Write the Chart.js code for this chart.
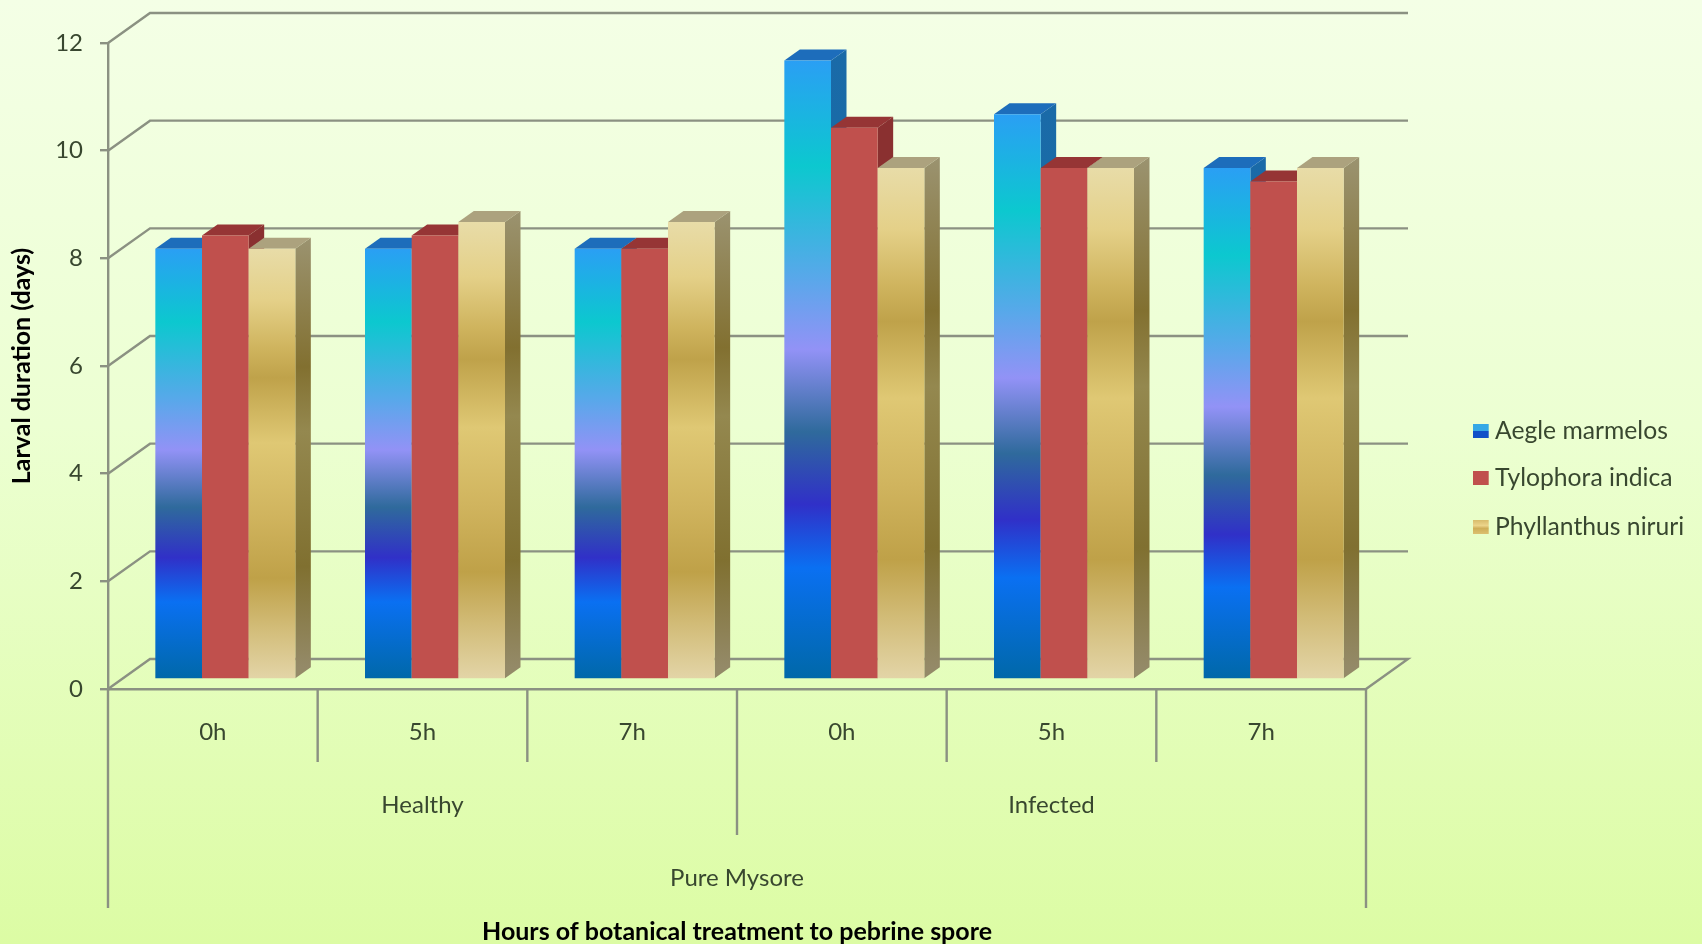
<!DOCTYPE html>
<html><head><meta charset="utf-8">
<style>html,body{margin:0;padding:0;background:#eaffcc}canvas{display:block}</style>
<script src="https://cdn.jsdelivr.net/npm/chart.js@4"></script>
</head><body><canvas id="c" width="1702" height="944"></canvas>
<script>
const hours=["0h","5h","7h","0h","5h","7h"];
const conditions=["Healthy","Infected"];
const breed="Pure Mysore";
const seriesNames=["Aegle marmelos","Tylophora indica","Phyllanthus niruri"];
const aegle=[8,8,8,11.5,10.5,9.5];
const tylophora=[8.25,8.25,8,10.25,9.5,9.25];
const phyllanthus=[8,8.5,8.5,9.5,9.5,9.5];
const yTitle="Larval duration (days)";
const xTitle="Hours of botanical treatment to pebrine spore";

const blueStops=[[0,"#2a9ff4"],[.17,"#0cc8cf"],[.35,"#58a8ea"],[.467,"#9292f6"],[.6,"#2f6a9c"],[.717,"#3030c8"],[.82,"#0a70f2"],[1,"#0068a8"]];
const redStops=[[0,"#c0504d"],[1,"#c0504d"]];
const tanStops=[[0,"#e8dca8"],[.12,"#e4d088"],[.23,"#cfb45e"],[.3,"#bfa24a"],[.45,"#dfc874"],[.62,"#d0b45e"],[.765,"#bfa148"],[.88,"#d2bc78"],[1,"#e3d5a8"]];
const topColors=["#1d6dbb","#963535","#aca27e"];
const sideStops=[
 [[0,"#1a6aa8"],[1,"#12709f"]],
 [[0,"#8a3030"],[1,"#8a3030"]],
 [[0,"#9b9370"],[.3,"#827030"],[.45,"#94884f"],[.765,"#807030"],[1,"#948a68"]]
];
const allStops=[blueStops,redStops,tanStops];
const AXIS="#8b9182",TXT="#38472f",FONT="Lato";
const DX=15.5,DY=11,SHIFTX=12.5,SHIFTY=9.5,WX=42,WY=30;

function grad(c,top,bot,stops){const g=c.createLinearGradient(0,top,0,bot);stops.forEach(s=>g.addColorStop(s[0],s[1]));return g;}
function barFill(i){return ctx=>{
  const ch=ctx.chart;if(!ch.chartArea||ctx.raw===undefined)return allStops[i][0][1];
  const s=ch.scales.y;return grad(ch.ctx,s.getPixelForValue(ctx.raw),s.getPixelForValue(0),allStops[i]);};}

function drawFaces(c,meta,i){
  meta.data.forEach(b=>{const l=b.x-b.width/2,r=b.x+b.width/2,t=b.y,bt=b.base;
   c.fillStyle=grad(c,t-DY,bt-DY,sideStops[i]);c.beginPath();c.moveTo(r,t);c.lineTo(r+DX,t-DY);c.lineTo(r+DX,bt-DY);c.lineTo(r,bt);c.closePath();c.fill();
   c.fillStyle=topColors[i];c.beginPath();c.moveTo(l,t);c.lineTo(l+DX,t-DY);c.lineTo(r+DX,t-DY);c.lineTo(r,t);c.closePath();c.fill();});
}
const scene={id:"scene",
 beforeDraw(ch){const c=ch.ctx;c.save();c.fillStyle=grad(c,0,944,[[0,"#f4ffe6"],[.45,"#ecffd2"],[1,"#dcfca4"]]);c.fillRect(0,0,1702,944);
  const a=ch.chartArea,y=ch.scales.y;c.strokeStyle=AXIS;c.lineWidth=2.4;
  y.ticks.forEach(t=>{const p=y.getPixelForValue(t.value);c.beginPath();c.moveTo(a.left,p);c.lineTo(a.left+WX,p-WY);c.lineTo(a.right+WX,p-WY);if(t.value===0)c.lineTo(a.right,p);c.stroke();});
  c.restore();},
 beforeDatasetsDraw(ch){
  const c=ch.ctx;c.save();c.translate(SHIFTX,-SHIFTY);
  ch.data.datasets.forEach((d,i)=>{const m=ch.getDatasetMeta(i);c.save();drawFaces(c,m,i);c.restore();m.controller.draw();});
  c.restore();return false;},
 afterDraw(ch){const c=ch.ctx,a=ch.chartArea,x=ch.scales.x;c.save();
  const step=x.getPixelForValue(1)-x.getPixelForValue(0);
  const edge=i=>x.getPixelForValue(i)-step/2;
  c.strokeStyle=AXIS;c.lineWidth=2.4;
  const depth=[908,762,762,835,762,762,908];
  depth.forEach((d,i)=>{c.beginPath();c.moveTo(edge(i),a.bottom);c.lineTo(edge(i),d);c.stroke();});
  c.fillStyle=TXT;c.font="24px "+FONT;c.textAlign="center";c.textBaseline="middle";
  conditions.forEach((n,g)=>c.fillText(n,(edge(g*3)+edge(g*3+3))/2,805));
  c.fillText(breed,(edge(0)+edge(6))/2,878);
  c.textAlign="left";
  c.font="24.7px "+FONT;
  const ly=[431,478,527];
  ch.data.datasets.forEach((d,i)=>{
    c.fillStyle=grad(c,ly[i]-7,ly[i]+7,i===0?[[0,"#35a8e6"],[.48,"#35a8e6"],[.52,"#1050c8"],[1,"#1050c8"]]:i===1?redStops:[[0,"#d8bc6c"],[.4,"#ecd48a"],[.6,"#cfae58"],[1,"#dcc070"]]);
    c.fillRect(1473,ly[i]-7,15.7,14);
    c.fillStyle=TXT;c.fillText(d.label,1495,ly[i]);});
  c.restore();}
};
const series=[aegle,tylophora,phyllanthus];
new Chart(document.getElementById("c"),{type:"bar",plugins:[scene],
 data:{labels:hours,datasets:series.map((v,i)=>({label:seriesNames[i],data:v,clip:false,borderWidth:0,backgroundColor:barFill(i)}))},
 options:{responsive:false,animation:false,devicePixelRatio:1,
  layout:{padding:{left:0,top:43,right:336,bottom:0}},
  plugins:{legend:{display:false},tooltip:{enabled:false}},
  datasets:{bar:{categoryPercentage:.6677,barPercentage:1}},
  scales:{
   x:{afterFit(s){s.height=255;},
      grid:{drawOnChartArea:false,drawTicks:false},border:{color:AXIS,width:2.4},
      ticks:{color:TXT,font:{family:FONT,size:24},padding:29,maxRotation:0},
      title:{display:true,text:xTitle,color:"#000",font:{family:FONT,size:25,weight:"bold",lineHeight:1},padding:{top:0,bottom:0}}},
   y:{min:0,max:12,afterFit(s){s.width=108;},
      grid:{drawOnChartArea:false,tickLength:8,color:AXIS,lineWidth:2.4},border:{color:AXIS,width:2.4},
      ticks:{stepSize:2,color:TXT,font:{family:FONT,size:24},padding:17},
      title:{display:true,text:yTitle,color:"#000",font:{family:FONT,size:25,weight:"bold",lineHeight:1.05},padding:{top:9,bottom:0}}}
  }}});
</script></body></html>
